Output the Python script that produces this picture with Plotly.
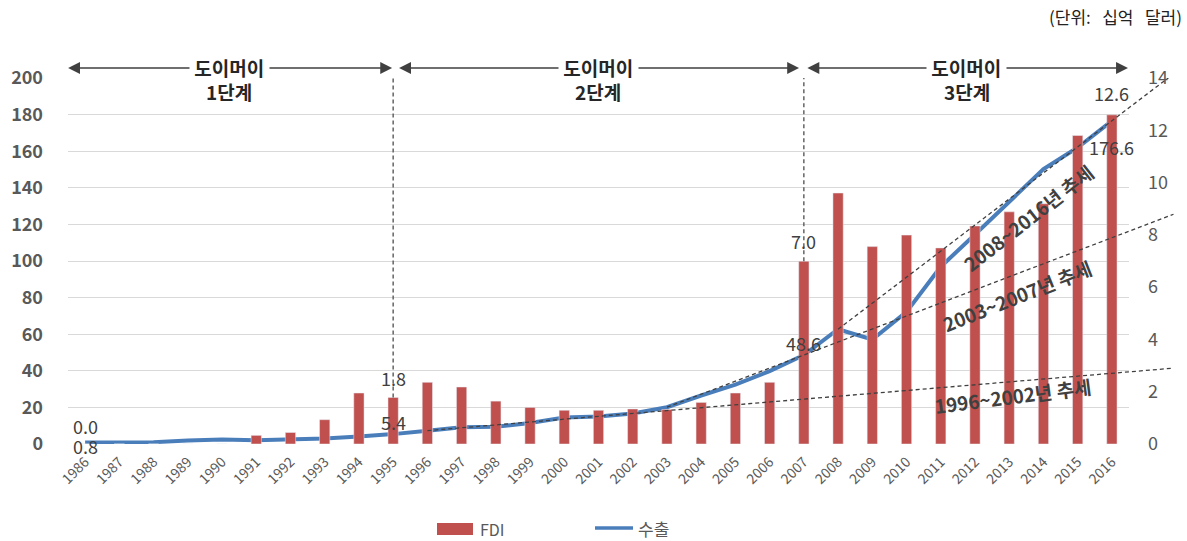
import plotly.graph_objects as go

# ---------------- data ----------------
years = list(range(1986, 2017))
fdi = [0.0, 0.0, 0.0, 0.0, 0.0, 0.33, 0.44, 0.93, 1.95, 1.78,
       2.36, 2.18, 1.64, 1.40, 1.29, 1.29, 1.34, 1.32, 1.59, 1.95,
       2.36, 6.99, 9.60, 7.55, 7.99, 7.50, 8.34, 8.88, 9.19, 11.80, 12.59]
exports = [0.8, 0.9, 1.0, 1.9, 2.4, 2.1, 2.6, 3.0, 4.1, 5.4,
           7.3, 9.2, 9.4, 11.5, 14.5, 15.0, 16.7, 20.1, 26.5, 32.4,
           39.8, 48.6, 62.7, 57.1, 72.2, 96.9, 114.5, 132.0, 150.2, 162.0, 176.6]
trend_periods = [(1996, 2002), (2003, 2007), (2008, 2016)]
trend_labels = ["1996~2002년 추세", "2003~2007년 추세", "2008~2016년 추세"]
phase_names = ["1단계", "2단계", "3단계"]
labeled_years = [1986, 1995, 2007, 2016]
left_ticks = list(range(0, 201, 20))
right_ticks = list(range(0, 15, 2))

# ---------------- geometry helpers ----------------
W, H = 1187, 541
PL, PR, PT, PB = 68, 5, 78, 97
PW, PH = W - PL - PR, H - PT - PB
X_END_PX = 1129
xdom = (X_END_PX - PL) / PW
px_per_year = (X_END_PX - PL) / 31.0


def pxx(xp):
    return (xp - PL) / PW


def pxy(yp):
    return (PT + PH - yp) / PH


FONT = "Noto Sans CJK KR, Noto Sans, DejaVu Sans, sans-serif"
RED = "#C0504D"
BLUE = "#4A7EBB"
DARK = "#404040"
GREY = "#595959"

fig = go.Figure()

fig.add_trace(go.Bar(x=years, y=fdi, name="FDI", marker_color=RED, width=0.3,
                     yaxis="y2", showlegend=False))
fig.add_trace(go.Scatter(x=years, y=exports, name="수출", mode="lines",
                         line=dict(color=BLUE, width=4), yaxis="y", showlegend=False))

# trend lines (extend beyond last year, drawn on a wider invisible subplot)
x_ext = 2017.8
for (a, b) in trend_periods:
    ea = exports[years.index(a)]
    eb = exports[years.index(b)]
    slope = (eb - ea) / (b - a)
    fig.add_trace(go.Scatter(x=[a, x_ext], y=[ea, ea + slope * (x_ext - a)],
                             mode="lines", xaxis="x3", yaxis="y3",
                             line=dict(color=DARK, width=1.3, dash="4px,3px"),
                             showlegend=False, hoverinfo="skip"))

fig.update_layout(
    width=W, height=H,
    margin=dict(l=PL, r=PR, t=PT, b=PB),
    paper_bgcolor="white", plot_bgcolor="rgba(0,0,0,0)",
    font=dict(family=FONT, color=GREY),
    xaxis=dict(domain=[0, xdom], range=[1985.5, 2016.5], tickvals=years,
               ticktext=[str(y) for y in years], tickangle=-45,
               tickfont=dict(size=14, color=GREY), ticklabelstandoff=6,
               showgrid=False, zeroline=False, showline=False, ticks=""),
    yaxis=dict(range=[0, 200], tickvals=left_ticks, showgrid=True, gridcolor="#D9D9D9",
               gridwidth=1.3, zeroline=False, ticks="",
               tickfont=dict(size=18, color=GREY, weight="bold"), ticklabelstandoff=24),
    yaxis2=dict(range=[0, 14], tickvals=right_ticks, overlaying="y", side="right",
                anchor="x", showgrid=False, zeroline=False, ticks="",
                tickfont=dict(size=18, color=GREY), ticklabelstandoff=18),
    xaxis3=dict(domain=[0, 1], range=[1985.5, 1985.5 + PW / px_per_year],
                visible=False, anchor="y3"),
    yaxis3=dict(domain=[0, 1], range=[0, 200], visible=False, anchor="x3"),
)

ann = []
# unit
ann.append(dict(xref="paper", yref="paper", x=pxx(1184), y=pxy(16), xanchor="right",
                yanchor="middle", text="(단위:&nbsp;&nbsp;&nbsp;십억&nbsp;&nbsp;&nbsp;달러)",
                showarrow=False, font=dict(size=17, color="#222222")))

# phase arrows
arrow_y = pxy(68)
phase_bounds = [(1985.46, 1994.97), (1995.13, 2006.86), (2007.06, 2016.47)]
for (x0, x1), name in zip(phase_bounds, phase_names):
    ann.append(dict(xref="x", yref="paper", x=x1, y=arrow_y, axref="x", ax=x0,
                    ayref="pixel", ay=0, text="", showarrow=True, arrowhead=2,
                    startarrowhead=2, arrowside="end+start", arrowsize=1.7,
                    startarrowsize=1.7, arrowwidth=1.4, arrowcolor=DARK,
                    standoff=0, startstandoff=0))
    xm = (x0 + x1) / 2
    ann.append(dict(xref="x", yref="paper", x=xm, y=arrow_y, text="&nbsp;도이머이&nbsp;",
                    xanchor="center", yanchor="middle",
                    showarrow=False, bgcolor="white", borderpad=0,
                    font=dict(size=19, color="#262626", weight="bold")))
    ann.append(dict(xref="x", yref="paper", x=xm, y=pxy(91), text=name,
                    xanchor="center", yanchor="middle",
                    showarrow=False, font=dict(size=19, color="#262626", weight="bold")))

# phase boundary dashed vertical lines
shapes = []
for yv in (1995, 2007):
    shapes.append(dict(type="line", xref="x", yref="y2", x0=yv, x1=yv,
                       y0=fdi[years.index(yv)], y1=14,
                       line=dict(color=GREY, width=1.4, dash="4px,3px")))

# data labels
fdi_shift = {1986: 18, 1995: 19, 2007: 20, 2016: 22}
exp_shift = {1986: -3, 1995: 12, 2007: 12, 2016: -26}
for yv in labeled_years:
    i = years.index(yv)
    ann.append(dict(xref="x", yref="y2", x=yv, y=fdi[i], yshift=fdi_shift[yv],
                    xanchor="center", yanchor="middle",
                    text=f"{fdi[i]:.1f}", showarrow=False,
                    font=dict(size=18, color=DARK)))
    ann.append(dict(xref="x", yref="y", x=yv, y=exports[i], yshift=exp_shift[yv],
                    xanchor="center", yanchor="middle",
                    text=f"{exports[i]:.1f}", showarrow=False,
                    font=dict(size=18, color=DARK)))

# trend labels
trend_pos = [(1013, 395, -7.3), (1017, 295, -21.6), (1028, 217, -38)]
for (xp, yp, ang), txt in zip(trend_pos, trend_labels):
    ann.append(dict(xref="paper", yref="paper", x=pxx(xp), y=pxy(yp), text=txt,
                    xanchor="center", yanchor="middle",
                    textangle=ang, showarrow=False,
                    font=dict(size=19, color=DARK, weight="bold")))

# custom legend
shapes.append(dict(type="rect", xref="paper", yref="paper", x0=pxx(437), x1=pxx(473),
                   y0=pxy(535), y1=pxy(523), fillcolor=RED, line=dict(width=0)))
ann.append(dict(xref="paper", yref="paper", x=pxx(478), y=pxy(529), xanchor="left",
                yanchor="middle",
                text="FDI", showarrow=False, font=dict(size=16, color=GREY)))
shapes.append(dict(type="line", xref="paper", yref="paper", x0=pxx(595), x1=pxx(633),
                   y0=pxy(528), y1=pxy(528), line=dict(color=BLUE, width=3.5)))
ann.append(dict(xref="paper", yref="paper", x=pxx(636), y=pxy(528), xanchor="left",
                yanchor="middle",
                text="수출", showarrow=False, font=dict(size=17, color=GREY)))

fig.update_layout(annotations=ann, shapes=shapes)
fig.write_html("out.html")
